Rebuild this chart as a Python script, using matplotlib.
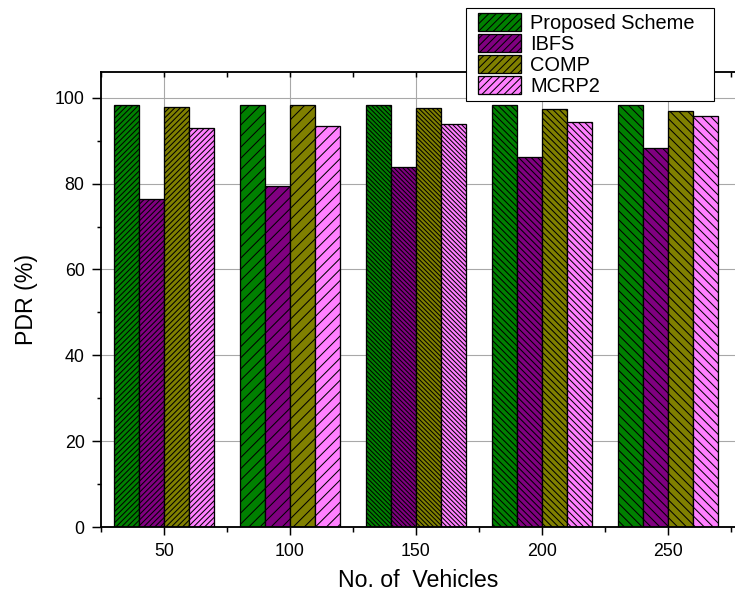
import matplotlib
matplotlib.use("Agg")
import matplotlib.pyplot as plt
from matplotlib.patches import Patch, Rectangle
from matplotlib.ticker import MultipleLocator
import numpy as np

# ---- data ----
vehicles = [50, 100, 150, 200, 250]
series_names = ["Proposed Scheme", "IBFS", "COMP", "MCRP2"]
proposed = [98.2, 98.2, 98.2, 98.4, 98.4]
ibfs = [76.4, 79.4, 83.8, 86.1, 88.3]
comp = [97.8, 98.4, 97.5, 97.4, 96.8]
mcrp2 = [93.0, 93.5, 93.9, 94.3, 95.8]
y_ticks = [0, 20, 40, 60, 80, 100]
x_label = "No. of  Vehicles"
y_label = "PDR (%)"

# ---- styles ----
colors = ["#008000", "#800080", "#808000", "#FF80FF"]
group_hatches = ["/" * 8, "/" * 4, "\\" * 10, "\\" * 7, "\\" * 5]
legend_hatch = "/" * 6

DPI = 400 / 3.0
W, H = 735, 593
plt.rcParams['font.family'] = ['Liberation Sans', 'DejaVu Sans']
plt.rcParams['hatch.linewidth'] = 0.55

fig = plt.figure(figsize=(W / DPI, H / DPI), dpi=DPI)
ax = fig.add_axes([101 / W, 66 / H, 635 / W, 455 / H])

series = [proposed, ibfs, comp, mcrp2]
width = 10
offsets = [-15, -5, 5, 15]
x = np.array(vehicles, dtype=float)
for vals, col, off in zip(series, colors, offsets):
    bars = ax.bar(x + off, vals, width=width, color=col, edgecolor="black",
                  linewidth=0.7, zorder=2)
    for b, h in zip(bars, group_hatches):
        b.set_hatch(h)

ax.set_xlim(25, 277)
ax.set_ylim(0, 106)
ax.set_xticks(vehicles)
ax.set_yticks(y_ticks)
ax.xaxis.set_minor_locator(MultipleLocator(25))
ax.yaxis.set_minor_locator(MultipleLocator(10))
ax.set_axisbelow(True)
ax.grid(True, which="major", color="#a8a8a8", linewidth=0.6)

for s in ["left", "bottom", "top"]:
    ax.spines[s].set_linewidth(1.0)
ax.spines["right"].set_visible(False)

ax.tick_params(axis="y", which="major", direction="out", length=4.9, width=0.8,
               labelsize=9.6, pad=4.0, left=True, right=False)
ax.tick_params(axis="y", which="minor", direction="out", length=2.2, width=0.8,
               left=True, right=False)
ax.tick_params(axis="x", which="major", direction="out", length=4.3, width=0.8,
               labelsize=9.6, pad=4.3, bottom=True)
ax.tick_params(axis="x", which="minor", direction="out", length=2.7, width=0.8,
               bottom=True)
# top inward ticks
ax.tick_params(axis="x", which="both", top=True)
for t in ax.xaxis.get_major_ticks() + ax.xaxis.get_minor_ticks():
    t.tick2line.set_marker(3)  # TICKDOWN
    t.tick2line.set_markersize(2.7)

ax.set_xlabel(x_label, fontsize=12.5, labelpad=5)
ax.set_ylabel(y_label, fontsize=12.5, labelpad=9)

# legend box (frame drawn separately to get the wide side padding)
fig.patches.append(Rectangle((466 / W, 1 - 101 / H), 248 / W, 93 / H,
                             transform=fig.transFigure, facecolor="white",
                             edgecolor="black", linewidth=0.6, zorder=5))
handles = [Patch(facecolor=c, edgecolor="black", hatch=legend_hatch, linewidth=0.7)
           for c in colors]
leg = fig.legend(handles, series_names, loc="upper left",
                 bbox_to_anchor=(478 / W, 1 - 13 / H),
                 fontsize=10.8, frameon=False,
                 handlelength=2.15, handleheight=1.0, labelspacing=0.06,
                 handletextpad=0.45, borderpad=0.0, borderaxespad=0.0)
leg.set_zorder(6)

fig.savefig("out.png", dpi=DPI)
